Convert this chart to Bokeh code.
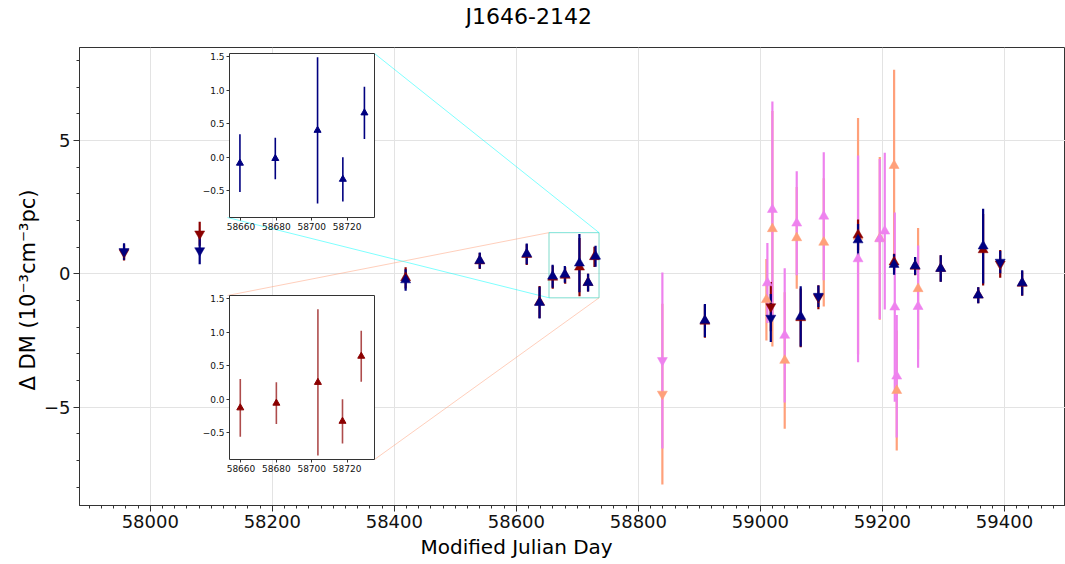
from bokeh.plotting import figure
from bokeh.models import (ColumnDataSource, Range1d, FixedTicker,
                          CustomJSTickFormatter, Title, LinearAxis)
from bokeh.core.properties import value
from bokeh.transform import factor_mark
from bokeh.layouts import column
from bokeh.embed import file_html
from bokeh.resources import INLINE

# ---------------- data: DM offsets of J1646-2142 (1e-3 cm^-3 pc) ----------------
blue_mjd = [57957, 58081, 58418.5, 58540, 58617, 58638, 58659.4, 58679.4, 58703.3,
            58717.6, 58729.8, 58909, 59017, 59066, 59095, 59160, 59219, 59253.5,
            59295.5, 59357, 59365, 59393, 59429]
blue_dm = [0.84, 0.87, -0.23, 0.50, 0.75, -1.08, -0.09, -0.02, 0.40, -0.33, 0.66,
           -1.75, -1.66, -1.60, -0.84, 1.27, 0.35, 0.30, 0.20, -0.80, 1.04, 0.44, -0.34]
blue_err = [0.31, 0.51, 0.40, 0.30, 0.39, 0.60, 0.43, 0.31, 1.09, 0.33, 0.39,
            0.62, 0.90, 1.13, 0.40, 0.60, 0.38, 0.33, 0.50, 0.30, 1.40, 0.42, 0.47]
blue_kind = ["down", "down", "up", "up", "up", "up", "up", "up", "up", "up", "up",
             "up", "down", "up", "down", "up", "up", "up", "up", "up", "up", "down", "up"]

red_mjd = [57957, 58081, 58418.5, 58540, 58617, 58638, 58659.6, 58680, 58703.5,
           58717.4, 58728, 58909, 59017, 59066, 59095, 59160, 59219, 59253.5,
           59295.5, 59357, 59365, 59393, 59429]
red_dm = [0.80, 1.50, -0.15, 0.48, 0.72, -1.06, -0.13, -0.06, 0.25, -0.33, 0.64,
          -1.78, -1.23, -1.65, -0.88, 1.46, 0.44, 0.28, 0.20, -0.80, 0.90, 0.37, -0.36]
red_err = [0.30, 0.45, 0.40, 0.30, 0.39, 0.60, 0.43, 0.31, 1.09, 0.33, 0.38,
           0.62, 0.92, 1.10, 0.45, 0.58, 0.31, 0.33, 0.50, 0.30, 1.34, 0.52, 0.46]
red_kind = list(blue_kind)

violet_mjd = [58839.3, 59011.4, 59019.6, 59039.8, 59059.5, 59103.8, 59160, 59195.6,
              59203.8, 59220.2, 59223.4, 59258.4]
violet_dm = [-3.25, -0.34, 2.41, -2.31, 1.90, 2.16, 0.56, 1.31, 1.60, -1.25, -3.84, -1.23]
violet_err = [3.30, 1.50, 4.05, 2.52, 1.95, 2.40, 3.88, 3.00, 2.94, 3.55, 2.30, 2.29]
violet_kind = ["down"] + ["up"] * 11

salmon_mjd = [58839.3, 59009.8, 59019.6, 59039.8, 59059.5, 59103.8, 59160, 59195.6,
              59219.1, 59223.4, 59258.4]
salmon_dm = [-4.51, -0.97, 1.69, -3.25, 1.35, 1.18, 1.41, 1.33, 4.06, -4.38, -0.56]
salmon_err = [3.39, 1.53, 4.42, 2.56, 1.91, 2.41, 4.44, 3.05, 3.60, 2.25, 2.28]
salmon_kind = ["down"] + ["up"] * 10

x_ticks = [58000, 58200, 58400, 58600, 58800, 59000, 59200, 59400]
y_ticks = [-5, 0, 5]
zoom_x_ticks = [58660, 58680, 58700, 58720]
zoom_y_ticks = [-0.5, 0.0, 0.5, 1.0, 1.5]

# ---------------- layout constants ----------------
FONT = "DejaVu Sans"
W, H = 1065, 564
BL, BR, BT, BB = 79, 0, 47, 59
X0, X1 = 57884.0, 59500.0
Y0, Y1 = -8.69, 8.49
ZX = (58653.5, 58735.5)
ZY = (-0.90, 1.545)
# inset frames (left, top) in page pixels, and frame size
IN_W, IN_H = 147, 164
IN_BL, IN_BR, IN_BT, IN_BB = 28, 2, 5, 16
INSET_BLUE = (227, 53)
INSET_RED = (227, 295)
# heading strip (left, top, width, height) in page pixels
HEAD = (465, 3, 200, 32)

KINDS = ["up", "down"]
SHAPES = ["triangle", "inverted_triangle"]


def make_source(mjd, dm, err, kind):
    return ColumnDataSource(dict(
        mjd=mjd, dm=dm, kind=kind,
        lo=[v - e for v, e in zip(dm, err)],
        hi=[v + e for v, e in zip(dm, err)]))


src_blue = make_source(blue_mjd, blue_dm, blue_err, blue_kind)
src_red = make_source(red_mjd, red_dm, red_err, red_kind)
src_violet = make_source(violet_mjd, violet_dm, violet_err, violet_kind)
src_salmon = make_source(salmon_mjd, salmon_dm, salmon_err, salmon_kind)

minus_fmt = CustomJSTickFormatter(
    code="return (tick < 0 ? '\u2212' : '') + Math.abs(tick).toFixed(0);")
minus_fmt1 = CustomJSTickFormatter(
    code="return (tick < 0 ? '\u2212' : '') + Math.abs(tick).toFixed(1);")
int_fmt = CustomJSTickFormatter(code="return tick.toFixed(0);")


def style_axis(ax, size, tick_out, minor_out, standoff):
    ax.axis_line_color = "#333333"
    ax.major_tick_line_color = "#333333"
    ax.minor_tick_line_color = "#333333"
    ax.major_tick_in = 0
    ax.major_tick_out = tick_out
    ax.minor_tick_in = 0
    ax.minor_tick_out = minor_out
    ax.major_label_text_font = FONT
    ax.major_label_text_font_size = size
    ax.major_label_text_color = "#111111"
    ax.major_label_standoff = standoff


# ---------------- main panel ----------------
p = figure(width=W, height=H, x_range=Range1d(X0, X1), y_range=Range1d(Y0, Y1),
           output_backend="svg", toolbar_location=None, frame_align=False,
           min_border_left=BL, min_border_right=BR, min_border_top=BT,
           min_border_bottom=BB, outline_line_color="#333333",
           background_fill_color="white", border_fill_color="white")

p.xaxis.ticker = FixedTicker(ticks=x_ticks, minor_ticks=list(range(57900, 59501, 20)))
p.yaxis.ticker = FixedTicker(ticks=y_ticks, minor_ticks=list(range(-8, 9)))
p.xaxis.formatter = int_fmt
p.yaxis.formatter = minus_fmt
style_axis(p.xaxis[0], "18px", 6, 3, 3)
style_axis(p.yaxis[0], "18px", 6, 3, 3)
p.xgrid.grid_line_color = "#e3e3e3"
p.ygrid.grid_line_color = "#e3e3e3"

p.add_layout(Title(text="Modified Julian Day", align="left", offset=341,
                   text_font=FONT, text_font_size="20px", text_font_style="normal",
                   text_color="black", standoff=4), "below")
p.add_layout(Title(text="\u0394 DM (10\u207b\u00b3cm\u207b\u00b3pc)", align="left",
                   offset=115, text_font=FONT, text_font_size="21px",
                   text_font_style="normal", text_color="black", standoff=2), "left")


def frame_to_data(px, py):
    """Page pixel position -> main-panel data coordinates."""
    fw = W - BL - BR
    fh = H - BT - BB
    x = X0 + (px - BL) / fw * (X1 - X0)
    y = Y1 - (py - BT) / fh * (Y1 - Y0)
    return x, y


# zoom box and connector lines
p.quad(left=[ZX[0]], right=[ZX[1]], bottom=[ZY[0]], top=[ZY[1]], fill_alpha=0,
       line_color="lightsalmon", line_alpha=0.5, line_width=1)
p.quad(left=[ZX[0]], right=[ZX[1]], bottom=[ZY[0]], top=[ZY[1]], fill_alpha=0,
       line_color="cyan", line_alpha=0.5, line_width=1)

bx, by = INSET_BLUE
rx, ry = INSET_RED
c1 = frame_to_data(bx + IN_W, by)          # blue inset top-right
c2 = frame_to_data(bx, by + IN_H)          # blue inset bottom-left
c3 = frame_to_data(rx, ry)                 # red inset top-left
c4 = frame_to_data(rx + IN_W, ry + IN_H)   # red inset bottom-right
p.segment(x0=[c3[0], c4[0]], y0=[c3[1], c4[1]], x1=[ZX[0], ZX[1]], y1=[ZY[1], ZY[0]],
          line_color="lightsalmon", line_alpha=0.5, line_width=1)
p.segment(x0=[c1[0], c2[0]], y0=[c1[1], c2[1]], x1=[ZX[1], ZX[0]], y1=[ZY[1], ZY[0]],
          line_color="cyan", line_alpha=0.5, line_width=1)

series = [(src_salmon, "lightsalmon"), (src_violet, "violet"),
          (src_red, "darkred"), (src_blue, "navy")]
for src, col in series:
    p.segment(x0="mjd", y0="lo", x1="mjd", y1="hi", source=src,
              line_color=col, line_width=2.2)
for src, col in series:
    p.scatter(x="mjd", y="dm", source=src, size=10, color=col, line_width=0.5,
              marker=factor_mark("kind", SHAPES, KINDS))

# ---------------- heading strip ----------------
head = figure(width=HEAD[2], height=HEAD[3], x_range=Range1d(0, 1), y_range=Range1d(0, 1),
              output_backend="svg", toolbar_location=None, frame_align=False,
              x_axis_location=None, y_axis_location=None, min_border=0,
              outline_line_color=None, background_fill_alpha=0, border_fill_alpha=0)
head.xgrid.visible = False
head.ygrid.visible = False
head.text(x=[0], y=[1], text=["J1646-2142"], text_align="left", text_baseline="top",
          text_font=value(FONT), text_font_size="22px", text_color="black")


# ---------------- zoom insets ----------------
def make_inset(src, col, bar_alpha):
    f = figure(width=IN_BL + IN_W + IN_BR, height=IN_BT + IN_H + IN_BB,
               x_range=Range1d(*ZX), y_range=Range1d(*ZY),
               output_backend="svg", toolbar_location=None, frame_align=False,
               min_border_left=IN_BL, min_border_right=IN_BR,
               min_border_top=IN_BT, min_border_bottom=IN_BB,
               outline_line_color=None, background_fill_color="white",
               border_fill_alpha=0)
    f.xaxis.ticker = FixedTicker(ticks=zoom_x_ticks, minor_ticks=[])
    f.yaxis.ticker = FixedTicker(ticks=zoom_y_ticks, minor_ticks=[])
    f.xaxis.formatter = int_fmt
    f.yaxis.formatter = minus_fmt1
    style_axis(f.xaxis[0], "9px", 3, 0, 2)
    style_axis(f.yaxis[0], "9px", 3, 0, 2)
    # plain spines closing the box on the top and right
    for side in ("above", "right"):
        spine = LinearAxis(ticker=FixedTicker(ticks=[], minor_ticks=[]),
                           major_tick_in=0, major_tick_out=0,
                           minor_tick_in=0, minor_tick_out=0,
                           major_label_standoff=0, major_label_text_font_size="0px",
                           axis_line_color="#333333")
        f.add_layout(spine, side)
    f.xgrid.visible = False
    f.ygrid.visible = False
    f.segment(x0="mjd", y0="lo", x1="mjd", y1="hi", source=src,
              line_color=col, line_alpha=bar_alpha, line_width=1.6)
    f.scatter(x="mjd", y="dm", source=src, size=7, color=col,
              marker=factor_mark("kind", SHAPES, KINDS))
    return f


inset_blue = make_inset(src_blue, "navy", 1.0)
inset_red = make_inset(src_red, "darkred", 0.7)

# stack the overlays on the main panel through (negative) margins in normal flow
head_top = HEAD[1]
blue_top = INSET_BLUE[1] - IN_BT
red_top = INSET_RED[1] - IN_BT
in_h = IN_BT + IN_H + IN_BB
head.margin = (head_top - H, 0, 0, HEAD[0])
inset_blue.margin = (blue_top - (head_top + HEAD[3]), 0, 0, INSET_BLUE[0] - IN_BL)
inset_red.margin = (red_top - (blue_top + in_h), 0, 0, INSET_RED[0] - IN_BL)

page = column(p, head, inset_blue, inset_red)

open("out.html", "w").write(file_html(page, INLINE))
